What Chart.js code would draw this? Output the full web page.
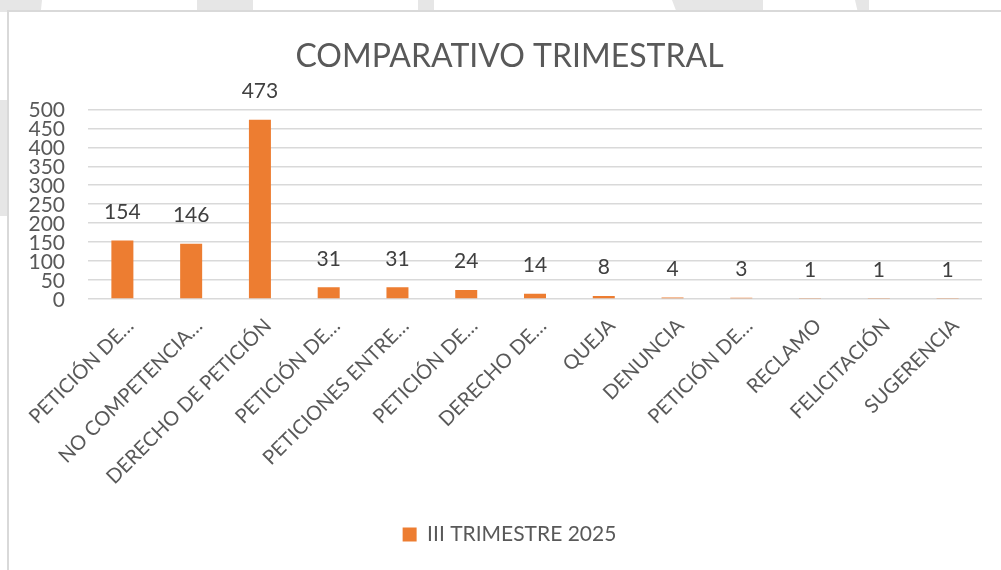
<!DOCTYPE html>
<html>
<head>
<meta charset="utf-8">
<script src="https://cdn.jsdelivr.net/npm/chart.js@4"></script>
<style>
  html, body { margin: 0; padding: 0; background: #fff; }
  #page { position: relative; width: 1001px; height: 570px; overflow: hidden; background: #fff; }
  .mark { position: absolute; background: #e6e6e6; }
  #frame { position: absolute; left: 7px; top: 10px; width: 1010px; height: 580px; background: #fff; border: 2px solid #d9d9d9; }
  #wrap { position: absolute; left: 0; top: 0; width: 1001px; height: 570px; }
</style>
</head>
<body>
<div id="page">
  <div class="mark" style="left:0;top:0;width:42px;height:12px;clip-path:polygon(0 0,100% 0,97% 100%,0 100%);"></div>
  <div class="mark" style="left:197px;top:0;width:56px;height:12px;"></div>
  <div class="mark" style="left:418px;top:0;width:16px;height:12px;"></div>
  <div class="mark" style="left:672px;top:0;width:91px;height:12px;clip-path:polygon(0 0,100% 0,100% 100%,5% 100%);"></div>
  <div class="mark" style="left:855px;top:0;width:14px;height:12px;clip-path:polygon(0 0,100% 0,100% 100%,20% 100%);"></div>
  <div class="mark" style="left:0;top:100px;width:9px;height:116px;"></div>
  <div id="frame"></div>
  <div id="wrap"><canvas id="chart" width="1001" height="570"></canvas></div>
</div>
<script>
var categories = [
    'PETICIÓN DE…',
    'NO COMPETENCIA…',
    'DERECHO DE PETICIÓN',
    'PETICIÓN DE…',
    'PETICIONES ENTRE…',
    'PETICIÓN DE…',
    'DERECHO DE…',
    'QUEJA',
    'DENUNCIA',
    'PETICIÓN DE…',
    'RECLAMO',
    'FELICITACIÓN',
    'SUGERENCIA'
];
var seriesName = 'III TRIMESTRE 2025';
var seriesValues = [154, 146, 473, 31, 31, 24, 14, 8, 4, 3, 1, 1, 1];
var yTicks = [0, 50, 100, 150, 200, 250, 300, 350, 400, 450, 500];

var fontFamily = 'Lato, "Open Sans", sans-serif';
var textColor = '#595959';

// value above each bar, like the Excel data labels
var valueLabels = {
    id: 'valueLabels',
    afterDatasetsDraw: function (chart) {
        var ctx = chart.ctx;
        ctx.save();
        ctx.font = '21px ' + fontFamily;
        ctx.fillStyle = '#404040';
        ctx.textAlign = 'center';
        ctx.textBaseline = 'bottom';
        chart.getDatasetMeta(0).data.forEach(function (bar, i) {
            ctx.fillText(String(chart.data.datasets[0].data[i]), bar.x, bar.y - 18);
        });
        ctx.restore();
    }
};

// y tick labels drawn outside the y scale box (chart.js clips them to it)
var yLabels = {
    id: 'yLabels',
    afterDraw: function (chart) {
        var ctx = chart.ctx;
        var scale = chart.scales.y;
        ctx.save();
        ctx.font = '21px ' + fontFamily;
        ctx.fillStyle = textColor;
        ctx.textAlign = 'right';
        ctx.textBaseline = 'middle';
        yTicks.forEach(function (v) {
            ctx.fillText(String(v), chart.chartArea.left - 23, scale.getPixelForValue(v) + 1);
        });
        ctx.restore();
    }
};

new Chart(document.getElementById('chart').getContext('2d'), {
    type: 'bar',
    data: {
        labels: categories,
        datasets: [
            {
                label: seriesName,
                data: seriesValues,
                backgroundColor: '#ED7D31',
                borderWidth: 0,
                categoryPercentage: 1,
                barPercentage: 0.32
            }
        ]
    },
    options: {
        responsive: false,
        animation: false,
        layout: {
            padding: {left: 37, right: 19, top: 27, bottom: 15}
        },
        plugins: {
            title: {
                display: true,
                text: 'COMPARATIVO TRIMESTRAL',
                color: textColor,
                font: {family: fontFamily, size: 32, weight: 'normal'},
                padding: {top: 10, bottom: 34}
            },
            legend: {
                position: 'bottom',
                labels: {
                    color: textColor,
                    font: {family: fontFamily, size: 21},
                    boxWidth: 14,
                    boxHeight: 14,
                    padding: 10
                }
            },
            tooltip: {enabled: false}
        },
        scales: {
            x: {
                grid: {display: false},
                border: {display: false},
                ticks: {
                    color: textColor,
                    font: {family: fontFamily, size: 20},
                    maxRotation: 45,
                    minRotation: 45,
                    autoSkip: false,
                    padding: 7,
                    labelOffset: 8
                },
                afterFit: function (scale) {
                    scale.height = 215;
                }
            },
            y: {
                min: 0,
                max: 500,
                afterBuildTicks: function (scale) {
                    scale.ticks = yTicks.map(function (v) { return {value: v}; });
                },
                grid: {color: '#d9d9d9', lineWidth: 1.5, drawTicks: false},
                border: {display: false},
                ticks: {display: false},
                afterFit: function (scale) {
                    scale.width = 51;
                }
            }
        }
    },
    plugins: [valueLabels, yLabels]
});
</script>
</body>
</html>
